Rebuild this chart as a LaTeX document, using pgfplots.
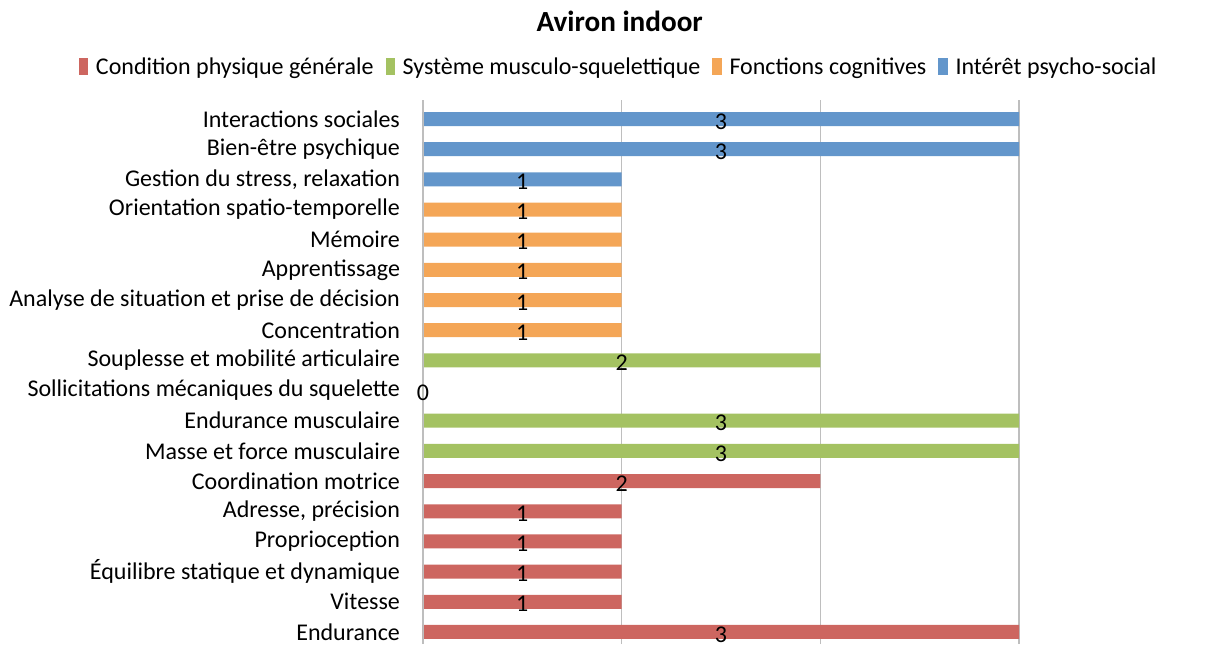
\documentclass[border=0pt]{standalone}
\usepackage{fontspec}
\setmainfont{Carlito}
\usepackage{pgfplots}
\usepackage{pgfplotstable}
\pgfplotsset{compat=1.18}
\definecolor{cred}{RGB}{205,102,96}
\definecolor{cgreen}{RGB}{164,194,98}
\definecolor{corange}{RGB}{244,166,87}
\definecolor{cblue}{RGB}{99,150,203}
\definecolor{cgrid}{RGB}{190,190,190}
\pgfplotstableread{
y v
0 3
1 1
2 1
3 1
4 1
5 2
}\tred
\pgfplotstableread{
y v
6 3
7 3
8 0
9 2
}\tgreen
\pgfplotstableread{
y v
10 1
11 1
12 1
13 1
14 1
}\torange
\pgfplotstableread{
y v
15 1
16 3
17 3
}\tblue
\begin{document}
\begin{tikzpicture}
\begin{axis}[
  at={(0,0)}, anchor=south west,
  scale only axis, width=298pt, height=272pt,
  xmin=0, xmax=3, ymin=-0.4, ymax=17.63,
  xtick={0,1,2,3}, xticklabels={},
  xmajorgrids, grid style={cgrid, line width=0.7pt},
  axis line style={draw=none},
  major tick length=0pt,
  ytick={0,...,17},
  yticklabels={Endurance,Vitesse,Équilibre statique et dynamique,Proprioception,{Adresse, précision},Coordination motrice,Masse et force musculaire,Endurance musculaire,Sollicitations mécaniques du squelette,Souplesse et mobilité articulaire,Concentration,Analyse de situation et prise de décision,Apprentissage,Mémoire,Orientation spatio-temporelle,{Gestion du stress, relaxation},Bien-être psychique,Interactions sociales},
  yticklabel style={font=\fontsize{12}{13}\selectfont, anchor=east, xshift=-8pt},
  /pgf/number format/assume math mode=true,
  title={\bfseries Aviron indoor},
  title style={font=\fontsize{14.6}{16}\selectfont, at={(0.33,1.122)}, anchor=center, yshift=0pt},
  legend style={at={(0.33,1.059)}, anchor=center, draw=none, legend columns=-1,
    font=\fontsize{12}{13}\selectfont, column sep=2pt,
    /tikz/every even column/.append style={column sep=4pt}},
  legend image code/.code={\fill[#1] (0cm,-0.12cm) rectangle (0.16cm,0.17cm);},
]
\addplot[xbar, fill=cred, draw=none, bar width=7pt, bar shift=0pt] table[x=v, y=y] {\tred};
\addlegendentry{Condition physique générale}
\addplot[xbar, fill=cgreen, draw=none, bar width=7pt, bar shift=0pt] table[x=v, y=y] {\tgreen};
\addlegendentry{Système musculo-squelettique}
\addplot[xbar, fill=corange, draw=none, bar width=7pt, bar shift=0pt] table[x=v, y=y] {\torange};
\addlegendentry{Fonctions cognitives}
\addplot[xbar, fill=cblue, draw=none, bar width=7pt, bar shift=0pt] table[x=v, y=y] {\tblue};
\addlegendentry{Intérêt psycho-social}
\draw[cgrid, line width=0.7pt] (axis cs:0,-0.4) -- (axis cs:0,17.63);
\pgfplotsset{lbl/.style={draw=none, mark=none, forget plot, nodes near coords, point meta=explicit,
  every node near coord/.style={font=\fontsize{12}{13}\selectfont, anchor=center, text=black, yshift=-1.2pt}}}
\addplot[lbl] table[x expr=\thisrow{v}/2, y=y, meta=v] {\tred};
\addplot[lbl] table[x expr=\thisrow{v}/2, y=y, meta=v] {\tgreen};
\addplot[lbl] table[x expr=\thisrow{v}/2, y=y, meta=v] {\torange};
\addplot[lbl] table[x expr=\thisrow{v}/2, y=y, meta=v] {\tblue};
\end{axis}
\pgfresetboundingbox
\path[use as bounding box] (-211.5pt,0) rectangle (395.5pt,322pt);
\end{tikzpicture}
\end{document}
